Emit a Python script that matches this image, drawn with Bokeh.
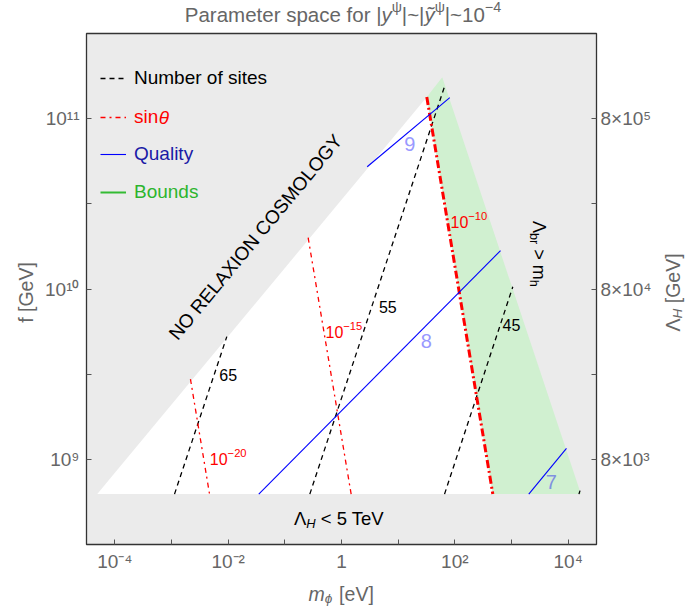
import math
from bokeh.plotting import figure
from bokeh.layouts import column, row
from bokeh.models import Range1d, FixedTicker, LogAxis, Label, Legend, LegendItem
from bokeh.embed import file_html
from bokeh.resources import INLINE

# ---------------- data (m_phi in eV, f in GeV) ----------------
white_m = [4.9e-5, 32.0, 468.0]
white_f = [6.25e8, 1.34e11, 6.25e8]
green_m = [32.0, 60.0, 1.68e4, 468.0]
green_f = [1.34e11, 1.75e11, 6.25e8, 6.25e8]

sites_labels = ["65", "55", "45", "35"]
sites_m = [[1.13e-3, 9.46e-3], [0.276, 66.0], [65.8, 1054.0], [1.55e4, 1.62e4]]
sites_f = [[6.25e8, 5.25e9], [6.25e8, 1.55e11], [6.25e8, 1.03e10], [6.25e8, 6.55e8]]

sin_exponents = ["−20", "−15", "−10"]
sin_m = [[2.16e-3, 4.69e-3], [0.258, 1.48], [32.0, 468.0]]
sin_f = [[2.96e9, 6.25e8], [2.0e10, 6.25e8], [1.34e11, 6.25e8]]

quality_labels = ["9", "8", "7"]
quality_m = [[2.84, 81.5], [0.0347, 640.0], [2018.0, 9333.0]]
quality_f = [[5.22e10, 1.33e11], [6.25e8, 1.68e10], [6.25e8, 1.16e9]]

x_ticks = [1e-4, 1e-2, 1.0, 1e2, 1e4]
x_tick_labels = ["10⁻⁴", "10⁻²", "1", "10²", "10⁴"]
x_minor = [1e-3, 1e-1, 1e1, 1e3]
y_ticks = [1e9, 1e10, 1e11]
y_tick_labels = ["10⁹", "10¹⁰", "10¹¹"]
y_minor = [10 ** 9.5, 10 ** 10.5]
lam_tick_labels = ["8×10³", "8×10⁴", "8×10⁵"]

# ---------------- styling ----------------
FONT = "Liberation Sans"
GRAY_BG = "#EBEBEB"
GREEN = "#D0F0D0"
TXT_GRAY = "#666666"
RED = "#FF0000"
BLUE = "#0000FF"
QCOL = "#9999FF"

# page geometry (px)
TOTAL_W, TOP_H, LEFT_W, RIGHT_W, BOT_H = 684, 31, 38, 32, 33
FR_L, FR_T, FR_W, FR_H = 86, 33, 510, 511
FR_B = FR_T + FR_H
MAIN_BT, MAIN_BB = FR_T - TOP_H, 575 - FR_B
MAIN_BL = FR_L - LEFT_W
MAIN_BR = TOTAL_W - RIGHT_W - LEFT_W - MAIN_BL - FR_W
MAIN_H = MAIN_BT + FR_H + MAIN_BB
XLO, XHI, YLO, YHI = -4.5, 4.5, 8.5, 11.5


def page_xy(px, py):
    u = XLO + (px - FR_L) / FR_W * (XHI - XLO)
    v = YHI - (py - FR_T) / FR_H * (YHI - YLO)
    return 10 ** u, 10 ** v


AW = {' ': 278, '!': 278, '|': 260, '~': 584, '[': 278, ']': 278, '<': 584, '>': 584,
      '−': 584, '-': 333, '×': 584, 'P': 667, 'a': 556, 'r': 333, 'm': 833, 'e': 556,
      't': 278, 's': 500, 'p': 556, 'c': 500, 'f': 278, 'o': 556, 'y': 500, 'ỹ': 500,
      'ψ': 700, 'T': 611, 'V': 667, 'N': 722, 'u': 556, 'b': 556, 'i': 222, 'G': 778,
      'Λ': 667, 'H': 722, 'h': 556, 'θ': 556, 'n': 556, 'Q': 778, 'l': 222, 'B': 667,
      'd': 556, 'ϕ': 650, 'E': 667, 'R': 722, 'L': 556, 'A': 667, 'X': 667, 'I': 278,
      'O': 778, 'C': 722, 'S': 667, 'M': 833, 'Y': 667, 'g': 556, 'v': 500}


def tw(s, fs):
    return sum(AW.get(ch, 556) for ch in s) / 1000.0 * fs


def rich(fig, x, y, pieces, fs, color, angle=0.0, align="center"):
    """pieces: list of (text, mode, italic); anchor = visual centre (or left edge)."""
    sizes = [fs * 0.7 if m in ("sup", "sub") else fs for _, m, _ in pieces]
    widths = [tw(t, s) for (t, _, _), s in zip(pieces, sizes)]
    total = sum(widths)
    cum = {"center": -total / 2, "left": 0.0, "right": -total}[align]
    ca, sa = math.cos(angle), math.sin(angle)
    for (t, mode, it), s, w in zip(pieces, sizes, widths):
        lead = len(t) - len(t.lstrip(" "))
        along = cum + tw(" " * lead, s)
        perp = 0.36 * fs if mode == "sup" else (-0.26 * fs if mode == "sub" else 0.0)
        dx = along * ca - perp * sa
        dy = along * sa + perp * ca
        fig.add_layout(Label(x=x, y=y, x_offset=dx, y_offset=dy, text=t.strip(" "), angle=angle,
                             text_align="left", text_baseline="middle",
                             text_font=FONT, text_font_size=f"{s:.1f}px", text_color=color,
                             text_font_style="italic" if it else "normal"))
        cum += w


def text_fig(w, h):
    f = figure(frame_width=w, frame_height=h, x_range=Range1d(0, w), y_range=Range1d(h, 0),
               x_axis_type=None, y_axis_type=None, min_border=0, title=None,
               toolbar_location=None, output_backend="svg")
    f.outline_line_color = None
    f.background_fill_color = "white"
    f.border_fill_color = "white"
    return f


# ---------------- main figure ----------------
p = figure(x_axis_type="log", y_axis_type="log",
           x_range=Range1d(10 ** XLO, 10 ** XHI), y_range=Range1d(10 ** YLO, 10 ** YHI),
           frame_width=FR_W, frame_height=FR_H,
           min_border_left=MAIN_BL, min_border_top=MAIN_BT,
           min_border_right=MAIN_BR, min_border_bottom=MAIN_BB,
           toolbar_location=None, output_backend="svg")
p.background_fill_color = GRAY_BG
p.border_fill_color = "white"
p.outline_line_color = "#333333"
p.outline_line_width = 1.3
p.xgrid.visible = False
p.ygrid.visible = False

# regions
p.patch(white_m, white_f, fill_color="white", line_color=None)
p.patch(green_m, green_f, fill_color=GREEN, line_color=None)

# lines
sites_r = [p.line(m, f, line_color="black", line_width=1.3, line_dash="5 4")
           for m, f in zip(sites_m, sites_f)]
sin_r = []
for i, (m, f) in enumerate(zip(sin_m, sin_f)):
    if i == len(sin_m) - 1:
        sin_r.append(p.line(m, f, line_color=RED, line_width=3, line_dash="8 3 2 3"))
    else:
        sin_r.append(p.line(m, f, line_color=RED, line_width=1.3, line_dash="5 4 2 4"))
qual_r = [p.line(m, f, line_color=BLUE, line_width=1.1) for m, f in zip(quality_m, quality_f)]
bounds_r = p.line([green_m[0], green_m[1]], [math.nan, math.nan], line_color="#33BB33", line_width=2)


# axes
def style_axis(ax, labels, ticks, minor, standoff):
    ax.ticker = FixedTicker(ticks=ticks, minor_ticks=minor)
    ax.major_label_overrides = {t: l for t, l in zip(ticks, labels)}
    ax.axis_line_color = None
    ax.major_tick_in = 5
    ax.major_tick_out = 0
    ax.minor_tick_in = 5
    ax.minor_tick_out = 0
    ax.major_tick_line_color = "#555555"
    ax.minor_tick_line_color = "#555555"
    ax.major_label_text_font = FONT
    ax.major_label_text_font_size = "19px"
    ax.major_label_text_color = TXT_GRAY
    ax.major_label_standoff = standoff


style_axis(p.xaxis[0], x_tick_labels, x_ticks, x_minor, 6)
style_axis(p.yaxis[0], y_tick_labels, y_ticks, y_minor, 7)
rax = LogAxis()
style_axis(rax, lam_tick_labels, y_ticks, y_minor, 4)
p.add_layout(rax, "right")


# legend
LEG_X, LEG_GW, LEG_SO = 14, 26, 8


def add_legend(label, renderer, color, yc):
    leg = Legend(items=[LegendItem(label=label, renderers=[renderer])],
                 location=(LEG_X, FR_B - yc - 12), padding=0, margin=0, spacing=0,
                 glyph_width=LEG_GW, glyph_height=24, label_height=24, label_standoff=LEG_SO,
                 label_text_font=FONT, label_text_font_size="19px", label_text_color=color,
                 border_line_alpha=0, background_fill_alpha=0)
    p.add_layout(leg)


add_legend("Number of sites", sites_r[0], "black", 78.3)
add_legend("sin", sin_r[0], RED, 116.7)
add_legend("Quality", qual_r[0], "#1A1AA6", 154.3)
add_legend("Bounds", bounds_r, "#2DB52D", 191.7)
rich(p, *page_xy(FR_L + LEG_X + LEG_GW + LEG_SO + tw("sin", 19), 116.7), [("θ", "n", True)],
     19, RED, align="left")

# in-plot labels (page positions)
q_pos = [(409.3, 143.3), (425.7, 340.0), (550.7, 481.0)]
q_col = [QCOL, QCOL, "#8090E0"]
for lab, (px, py), c in zip(quality_labels, q_pos, q_col):
    rich(p, *page_xy(px, py), [(lab, "n", False)], 20, c)

s_pos = [(227.7, 374.3), (387.3, 306.7), (511.0, 324.3)]
for lab, (px, py) in zip(sites_labels[:3], s_pos):
    rich(p, *page_xy(px, py), [(lab, "n", False)], 16, "black")

e_pos = [(209.3, 458.5), (325.0, 331.7), (450.0, 221.7)]
for ex, (px, py) in zip(sin_exponents, e_pos):
    rich(p, *page_xy(px, py), [("10", "n", False), (ex, "sup", False)], 16, RED, align="left")

rich(p, *page_xy(255, 236.7), [("NO RELAXION COSMOLOGY", "n", False)], 19, "black",
     angle=math.atan(1.207))
rich(p, *page_xy(538, 253.3), [("Λ", "n", False), ("br", "sub", False), (" > ", "n", False),
                               ("m", "n", False), ("h", "sub", False)], 18, "black",
     angle=-math.pi / 2)
rich(p, *page_xy(339.5, 518.3), [("Λ", "n", False), ("H", "sub", True), (" < 5 TeV", "n", False)],
     18.5, "black")

# ---------------- surrounding text panels ----------------
top = text_fig(TOTAL_W, TOP_H)
rich(top, 342.5, 13.5, [("Parameter space for |", "n", False), ("y", "n", True), ("ψ", "sup", False),
                        ("|~|", "n", False), ("ỹ", "n", True), ("ψ", "sup", False),
                        ("|~10", "n", False), ("−4", "sup", False)], 20.5, TXT_GRAY)

left = text_fig(LEFT_W, MAIN_H)
rich(left, 25, 290 - TOP_H, [("f [GeV]", "n", False)], 19.5, TXT_GRAY, angle=math.pi / 2)

right = text_fig(RIGHT_W, MAIN_H)
rich(right, 670 - (TOTAL_W - RIGHT_W), 290 - TOP_H,
     [("Λ", "n", False), ("H", "sub", True), (" [GeV]", "n", False)], 19.5, TXT_GRAY,
     angle=math.pi / 2)

bottom = text_fig(TOTAL_W, BOT_H)
rich(bottom, 340.7, 593.3 - 575, [("m", "n", True), ("ϕ", "sub", True), (" [eV]", "n", False)],
     19.5, TXT_GRAY)

layout = column(top, row(left, p, right), bottom)
open("out.html", "w").write(file_html(layout, INLINE, title="plot"))
